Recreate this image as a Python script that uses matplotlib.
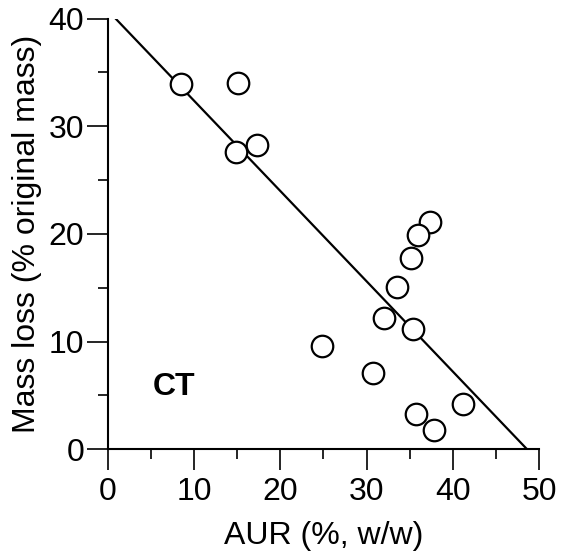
import numpy as np
import matplotlib
matplotlib.use("Agg")
import matplotlib.pyplot as plt
from matplotlib.ticker import MultipleLocator

plt.rcParams['font.family'] = ['Liberation Sans', 'DejaVu Sans']

# AUR (%, w/w) vs mass loss (% original mass)
aur = [8.5, 15.1, 14.9, 17.3, 37.4, 36.0, 35.2, 33.5, 32.0, 35.4, 24.8, 30.8, 35.7, 37.8, 41.2]
mass_loss = [33.9, 34.0, 27.6, 28.3, 21.1, 19.9, 17.8, 15.1, 12.2, 11.2, 9.6, 7.05, 3.3, 1.8, 4.2]

# regression line
slope = -0.838
intercept = 40.74

fig = plt.figure(figsize=(5.68, 5.58), dpi=100)
ax = fig.add_axes([0.190, 0.1948, 0.759, 0.772])

x0 = (40 - intercept) / slope
x1 = -intercept / slope
xl = np.array([x0, x1])
ax.plot(xl, intercept + slope * xl, color='black', lw=1.6)
ax.plot(aur, mass_loss, 'o', ms=15.5, mfc='white', mec='black', mew=1.6, clip_on=False)

ax.text(5.2, 5.8, 'CT', fontsize=23, fontweight='bold', va='center', ha='left')

ax.set_xlim(0, 50)
ax.set_ylim(0, 40)
ax.xaxis.set_major_locator(MultipleLocator(10))
ax.xaxis.set_minor_locator(MultipleLocator(5))
ax.yaxis.set_major_locator(MultipleLocator(10))
ax.yaxis.set_minor_locator(MultipleLocator(5))
for s in ['top', 'right']:
    ax.spines[s].set_visible(False)
for s in ['left', 'bottom']:
    ax.spines[s].set_linewidth(1.5)
ax.tick_params(which='major', direction='out', length=15, width=1.2, labelsize=23)
ax.tick_params(axis='x', which='major', pad=5)
ax.tick_params(axis='y', which='major', pad=2)
ax.tick_params(which='minor', direction='out', length=7, width=1.2)

ax.set_xlabel('AUR (%, w/w)', fontsize=23, labelpad=10)
ax.set_ylabel('Mass loss (% original mass)', fontsize=23, labelpad=5)

fig.savefig('out.png', dpi=100)
